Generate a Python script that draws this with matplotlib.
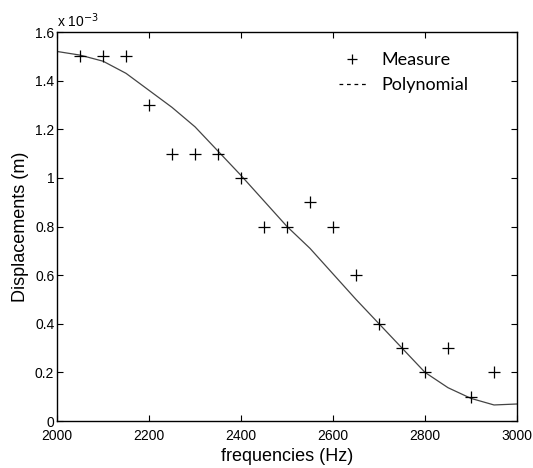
import matplotlib.pyplot as plt
from matplotlib.lines import Line2D
from matplotlib.ticker import FuncFormatter

# measured displacements (units of 1e-3 m)
freq_meas = [2050, 2100, 2150, 2200, 2250, 2300, 2350, 2400, 2450, 2500,
             2550, 2600, 2650, 2700, 2750, 2800, 2850, 2900, 2950]
disp_meas = [1.5, 1.5, 1.5, 1.3, 1.1, 1.1, 1.1, 1.0, 0.8, 0.8,
             0.9, 0.8, 0.6, 0.4, 0.3, 0.2, 0.3, 0.1, 0.2]

# polynomial fit, evaluated every 50 Hz
freq_fit = [2000, 2050, 2100, 2150, 2200, 2250, 2300, 2350, 2400, 2450, 2500,
            2550, 2600, 2650, 2700, 2750, 2800, 2850, 2900, 2950, 3000]
disp_fit = [1.52, 1.505, 1.48, 1.43, 1.36, 1.29, 1.21, 1.11, 1.01, 0.905, 0.80,
            0.71, 0.605, 0.50, 0.40, 0.30, 0.20, 0.137, 0.093, 0.066, 0.07]

x_ticks = [2000, 2200, 2400, 2600, 2800, 3000]
y_ticks = [0, 0.2, 0.4, 0.6, 0.8, 1.0, 1.2, 1.4, 1.6]

plt.rcParams['font.family'] = ['Liberation Sans', 'DejaVu Sans']

fig = plt.figure(figsize=(5.33, 4.68), dpi=100)
ax = fig.add_axes([0.107, 0.1004, 0.863, 0.8312])

ax.plot(freq_fit, disp_fit, color="#444444", lw=0.9)
ax.plot(freq_meas, disp_meas, linestyle="none", marker="+", color="black",
        markersize=9, markeredgewidth=0.9)

ax.set_xlim(2000, 3000)
ax.set_ylim(0, 1.6)
ax.set_xticks(x_ticks)
ax.set_yticks(y_ticks)
ax.yaxis.set_major_formatter(FuncFormatter(lambda v, p: "%g" % round(v, 1)))
ax.tick_params(direction="in", top=True, right=True, length=4, width=0.8,
               labelsize=10)
ax.tick_params(axis="y", pad=2)
ax.tick_params(axis="x", pad=5.5)
for s in ax.spines.values():
    s.set_linewidth(1.0)

ax.set_xlabel("frequencies (Hz)", fontsize=13, labelpad=4)
ax.set_ylabel("Displacements (m)", fontsize=13, labelpad=4)
ax.text(0.0, 1.005, r"x 10$^{-3}$", transform=ax.transAxes, fontsize=10,
        ha="left", va="bottom")

# legend as drawn in the original (dashed sample for the polynomial)
handles = [Line2D([], [], linestyle="none", marker="+", color="black",
                  markersize=7, markeredgewidth=0.9),
           Line2D([], [], linestyle=(0, (3, 3)), color="black", lw=0.9)]
leg = ax.legend(handles, ["Measure", "Polynomial"], loc="upper left",
                bbox_to_anchor=(0.612, 0.948), frameon=False, borderpad=0,
                borderaxespad=0, handlelength=1.5, handletextpad=0.9,
                labelspacing=0.5, prop={"family": "Lato", "size": 13})

fig.savefig("out.png", dpi=100)
